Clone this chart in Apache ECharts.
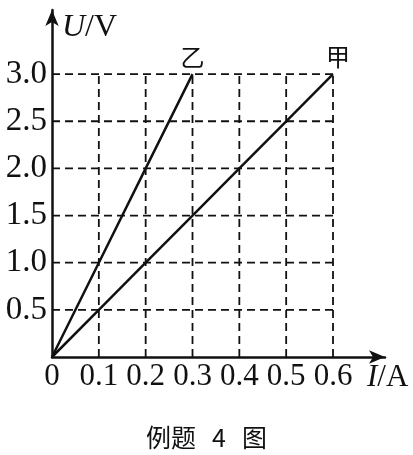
<!DOCTYPE html>
<html>
<head>
<meta charset="utf-8">
<script src="https://cdn.jsdelivr.net/npm/echarts@6/dist/echarts.min.js"></script>
<style>html,body{margin:0;padding:0;background:#fff;}#c{width:413px;height:455px;}</style>
</head>
<body>
<div id="c"></div>
<script>
// Data
const xTicks = [0, 0.1, 0.2, 0.3, 0.4, 0.5, 0.6];
const yTicks = [0.5, 1.0, 1.5, 2.0, 2.5, 3.0];
const currentJia = [0, 0.1, 0.2, 0.3, 0.4, 0.5, 0.6];
const voltageJia = [0, 0.5, 1.0, 1.5, 2.0, 2.5, 3.0];
const currentYi = [0, 0.1, 0.2, 0.3];
const voltageYi = [0, 1.0, 2.0, 3.0];
const seriesNames = ['甲', '乙'];
const captionParts = ['例题', '4', '图'];

const serif = '"Liberation Serif", "DejaVu Serif", serif';
const cjk = '"Noto Sans CJK SC", sans-serif';
const ink = '#111';

const xMaxTick = xTicks[xTicks.length - 1];
const yMaxTick = yTicks[yTicks.length - 1];

const gridSeries = [];
xTicks.filter(v => v > 0).forEach(v => {
  gridSeries.push({
    type: 'line', silent: true, symbol: 'none', z: 1,
    lineStyle: { color: ink, width: 1.8, type: [8, 5] },
    data: [[v, 0], [v, yMaxTick]]
  });
});
yTicks.forEach(v => {
  gridSeries.push({
    type: 'line', silent: true, symbol: 'none', z: 1,
    lineStyle: { color: ink, width: 1.8, type: [8, 5] },
    data: [[0, v], [xMaxTick, v]]
  });
});

function buildData(xs, ys, name, offset) {
  return xs.map((x, i) => {
    const item = { value: [x, ys[i]] };
    if (i === xs.length - 1) {
      item.label = {
        show: true, formatter: name, position: 'top', distance: 5,
        offset: offset, fontFamily: cjk, fontSize: 24, color: ink
      };
    }
    return item;
  });
}

const chart = echarts.init(document.getElementById('c'), null, { renderer: 'canvas' });
chart.setOption({
  animation: false,
  backgroundColor: '#fff',
  title: {
    left: 'center', top: 420,
    text: '{a|' + captionParts[0] + '}{s| }{a|' + captionParts[1] + '}{s| }{a|' + captionParts[2] + '}',
    textStyle: {
      rich: {
        a: { fontFamily: cjk, fontSize: 25, color: ink, fontWeight: 'normal' },
        s: { width: 16, fontSize: 25 }
      }
    }
  },
  grid: { left: 52, right: 28, top: 10, bottom: 98, containLabel: false },
  xAxis: {
    type: 'value', min: 0, max: 0.711,
    name: '{i|I}/A', nameLocation: 'end', nameGap: -18,
    nameTextStyle: {
      fontFamily: serif, fontSize: 31, color: ink, align: 'left', verticalAlign: 'top',
      padding: [5, 0, 0, 0],
      rich: { i: { fontFamily: serif, fontSize: 31, fontStyle: 'italic', color: ink } }
    },
    axisLine: { show: true, lineStyle: { color: ink, width: 2.5 }, symbol: ['none', 'arrow'], symbolSize: [10, 16] },
    axisTick: { show: false },
    splitLine: { show: false },
    axisLabel: {
      customValues: xTicks, margin: 4,
      fontFamily: serif, fontSize: 31, color: ink,
      formatter: v => (v === 0 ? '0' : v.toFixed(1))
    }
  },
  yAxis: {
    type: 'value', min: 0, max: 3.68,
    name: '{i|U}/V', nameLocation: 'end', nameGap: -2,
    nameTextStyle: {
      fontFamily: serif, fontSize: 32, color: ink, align: 'left', verticalAlign: 'top',
      padding: [0, 0, 0, 10],
      rich: { i: { fontFamily: serif, fontSize: 32, fontStyle: 'italic', color: ink } }
    },
    axisLine: { show: true, lineStyle: { color: ink, width: 2.5 }, symbol: ['none', 'arrow'], symbolSize: [10, 16] },
    axisTick: { show: false },
    splitLine: { show: false },
    axisLabel: {
      customValues: yTicks, margin: 5,
      fontFamily: serif, fontSize: 33, color: ink,
      formatter: v => v.toFixed(1)
    }
  },
  series: gridSeries.concat([
    {
      name: seriesNames[0], type: 'line', symbol: 'circle', symbolSize: 0, showSymbol: true, z: 3,
      lineStyle: { color: ink, width: 2.5 }, itemStyle: { color: ink },
      data: buildData(currentJia, voltageJia, seriesNames[0], [5, 0])
    },
    {
      name: seriesNames[1], type: 'line', symbol: 'circle', symbolSize: 0, showSymbol: true, z: 3,
      lineStyle: { color: ink, width: 2.5 }, itemStyle: { color: ink },
      data: buildData(currentYi, voltageYi, seriesNames[1], [0, 0])
    }
  ])
});
</script>
</body>
</html>
